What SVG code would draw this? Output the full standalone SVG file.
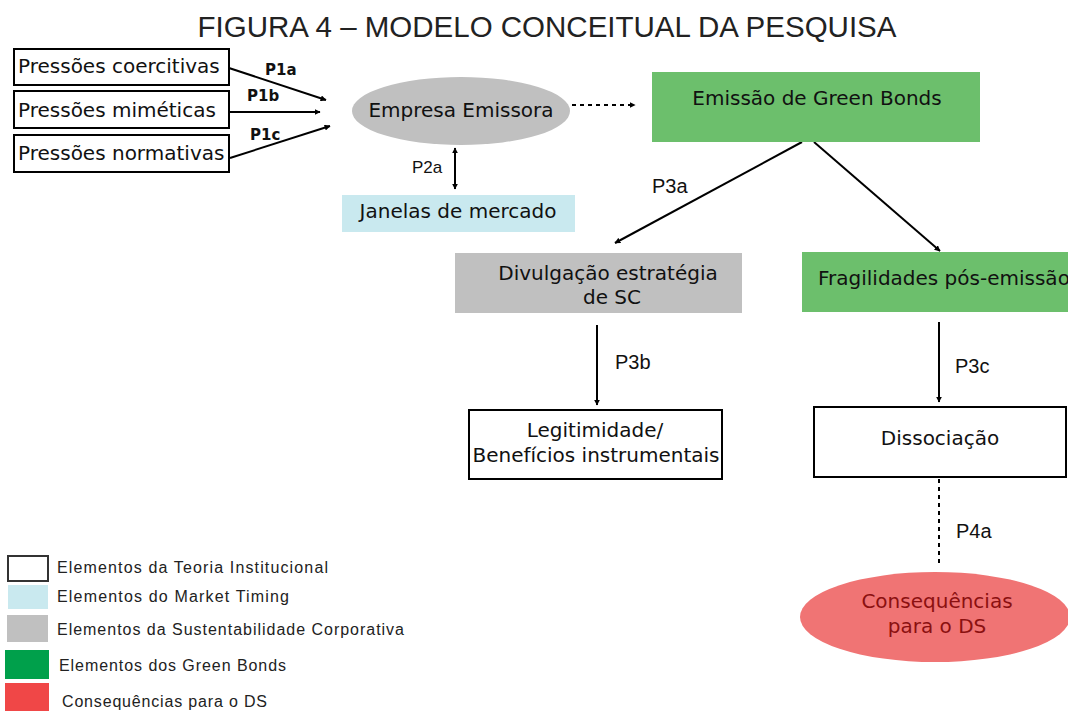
<svg xmlns="http://www.w3.org/2000/svg" width="1068" height="711" viewBox="0 0 1068 711">
<defs>
<marker id="ah" viewBox="0 0 10 10" refX="9" refY="5" markerWidth="6" markerHeight="6" markerUnits="userSpaceOnUse" orient="auto-start-reverse">
<path d="M0,0 L10,5 L0,10 z" fill="#000"/>
</marker>
<style>
.box{font-family:"DejaVu Sans",Verdana,sans-serif;font-size:20px;fill:#111}
.lbl{font-family:"Liberation Sans",Arial,sans-serif;font-size:20px;fill:#111}
.plb{font-family:"DejaVu Sans",Verdana,sans-serif;font-size:15px;font-weight:bold;fill:#111}
.leg{font-family:"Liberation Sans",Arial,sans-serif;font-size:16px;fill:#222}
.ln{stroke:#000;stroke-width:2;fill:none}
.wb{fill:#fff;stroke:#000;stroke-width:2}
.red{fill:#8b1010}
</style>
</defs>
<rect width="1068" height="711" fill="#fff"/>
<text x="547" y="37" text-anchor="middle" font-family="Liberation Sans, Arial, sans-serif" font-size="29.5" fill="#222">FIGURA 4 – MODELO CONCEITUAL DA PESQUISA</text>

<g id="connectors">
<line class="ln" x1="229" y1="68" x2="326" y2="100" marker-end="url(#ah)"/>
<line class="ln" x1="229" y1="112" x2="320" y2="112" marker-end="url(#ah)"/>
<line class="ln" x1="230" y1="158" x2="330" y2="126" marker-end="url(#ah)"/>
<line class="ln" x1="572" y1="105" x2="635" y2="105" stroke-dasharray="4,4" marker-end="url(#ah)"/>
<line class="ln" x1="455" y1="148" x2="455" y2="189" marker-start="url(#ah)" marker-end="url(#ah)"/>
<line class="ln" x1="802" y1="142" x2="615" y2="243" marker-end="url(#ah)"/>
<line class="ln" x1="814" y1="142" x2="940" y2="251" marker-end="url(#ah)"/>
<line class="ln" x1="597" y1="325" x2="597" y2="405" marker-end="url(#ah)"/>
<line class="ln" x1="939" y1="322" x2="939" y2="402" marker-end="url(#ah)"/>
<line class="ln" x1="939" y1="479" x2="939" y2="567" stroke-dasharray="4,4"/>
<text class="plb" x="265" y="75">P1a</text>
<text class="plb" x="247" y="101">P1b</text>
<text class="plb" x="250" y="140">P1c</text>
<text class="lbl" x="412" y="173" style="font-size:17px">P2a</text>
<text class="lbl" x="652" y="193">P3a</text>
<text class="lbl" x="615" y="369">P3b</text>
<text class="lbl" x="955" y="373">P3c</text>
<text class="lbl" x="956" y="538">P4a</text>
</g>

<g id="n-coercitivas"><rect class="wb" x="14" y="49" width="215" height="36"/><text class="box" x="18" y="73">Pressões coercitivas</text></g>
<g id="n-mimeticas"><rect class="wb" x="14" y="91" width="215" height="37"/><text class="box" x="18" y="117">Pressões miméticas</text></g>
<g id="n-normativas"><rect class="wb" x="14" y="135" width="215" height="37"/><text class="box" x="18" y="160">Pressões normativas</text></g>

<g id="n-empresa"><ellipse cx="461" cy="111" rx="109" ry="34" fill="#c0c0c0"/><text class="box" x="461" y="117" text-anchor="middle">Empresa Emissora</text></g>
<g id="n-janelas"><rect x="342" y="195" width="233" height="37" fill="#c9e9ef"/><text class="box" x="458" y="218" text-anchor="middle">Janelas de mercado</text></g>
<g id="n-emissao"><rect x="652" y="72" width="328" height="70" fill="#6cbf6c"/><text class="box" x="817" y="105" text-anchor="middle">Emissão de Green Bonds</text></g>
<g id="n-divulgacao"><rect x="455" y="253" width="287" height="60" fill="#c0c0c0"/><text class="box" x="608" y="280" text-anchor="middle">Divulgação estratégia</text><text class="box" x="612" y="304" text-anchor="middle">de SC</text></g>
<g id="n-fragilidades"><rect x="802" y="252" width="280" height="60" fill="#6cbf6c"/><text class="box" x="818" y="285">Fragilidades pós-emissão</text></g>
<g id="n-legitimidade"><rect class="wb" x="469" y="410" width="253" height="69"/><text class="box" x="595" y="437" text-anchor="middle">Legitimidade/</text><text class="box" x="596" y="462" text-anchor="middle">Benefícios instrumentais</text></g>
<g id="n-dissociacao"><rect class="wb" x="814" y="407" width="252" height="70"/><text class="box" x="940" y="445" text-anchor="middle">Dissociação</text></g>
<g id="n-consequencias"><ellipse cx="935" cy="617" rx="135" ry="45" fill="#f07474"/><text class="box red" x="937" y="608" text-anchor="middle">Consequências</text><text class="box red" x="937" y="633" text-anchor="middle">para o DS</text></g>

<g id="legend">
<rect x="8" y="556" width="40" height="25" fill="#fff" stroke="#333" stroke-width="2"/>
<text class="leg" x="57" y="573" textLength="271" lengthAdjust="spacing">Elementos da Teoria Institucional</text>
<rect x="8" y="585" width="40" height="24" fill="#c9e9ef"/>
<text class="leg" x="57" y="602" textLength="232" lengthAdjust="spacing">Elementos do Market Timing</text>
<rect x="7" y="615" width="41" height="27" fill="#c0c0c0"/>
<text class="leg" x="57" y="635" textLength="347" lengthAdjust="spacing">Elementos da Sustentabilidade Corporativa</text>
<rect x="5" y="650" width="44" height="29" fill="#00a04b"/>
<text class="leg" x="59" y="671" textLength="227" lengthAdjust="spacing">Elementos dos Green Bonds</text>
<rect x="5" y="683" width="44" height="28" fill="#f04747"/>
<text class="leg" x="62" y="707" textLength="205" lengthAdjust="spacing">Consequências para o DS</text>
</g>
</svg>
